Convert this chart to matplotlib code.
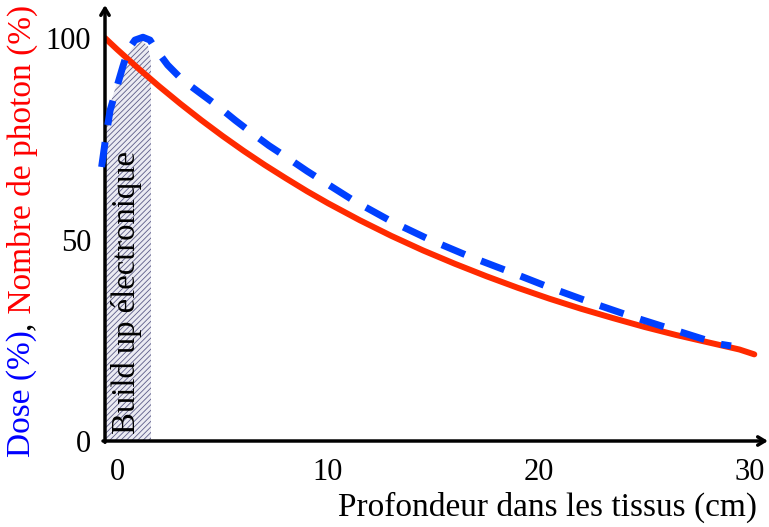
import numpy as np
import matplotlib.pyplot as plt

plt.rcParams['font.family'] = ['Liberation Serif', 'DejaVu Serif']
plt.rcParams['hatch.linewidth'] = 0.6
plt.rcParams['hatch.color'] = '#5c5c88'

# nombre de photons (%) vs profondeur (cm)
x_photon = [-0.57, 0.0, 1.0, 2.0, 3.0, 4.0, 5.0, 6.0, 7.0, 8.0, 9.0, 10.0, 11.5, 13.0, 14.5,
            16.0, 17.5, 19.0, 20.5, 22.0, 23.5, 25.0, 26.5, 28.0, 29.5, 30.2]
y_photon = [100, 97.2, 92.5, 88.0, 83.7, 79.6, 75.7, 72.0, 68.5, 65.2, 62.0, 59.0, 54.8,
            50.9, 47.3, 44.0, 40.9, 38.0, 35.3, 32.8, 30.5, 28.3, 26.3, 24.5, 22.7, 21.5]

# dose (%) vs profondeur (cm)
x_dose = [-0.73, -0.57, -0.33, 0.0, 0.28, 0.52, 0.85, 1.23, 1.56, 1.8, 2.4, 3.1, 4.0, 4.8,
          5.6, 6.4, 7.2, 8.1, 9.0, 9.9, 11.2, 13.0, 14.8, 16.7, 18.7, 20.5, 22.6, 24.5,
          26.5, 28.5, 29.1]
y_dose = [68, 74, 82, 88, 93, 97, 99.5, 100.2, 99.5, 97.5, 93.3, 89.6, 86.1, 83,
          79.6, 76.4, 73.3, 70.2, 67.0, 64, 59.7, 54.5, 50, 45.8, 41.8, 38.1, 34.1, 30.7,
          27.4, 24.1, 23.6]

# zone de build up
x_buildup = [-0.57, -0.24, 0.14, 0.52, 0.85, 1.18, 1.47, 1.61]
y_buildup = [78, 85, 91, 96, 98.5, 99.3, 98, 94]

x_ticks = [0, 10, 20, 30]
y_ticks = [0, 50, 100]

fig = plt.figure(figsize=(7.69, 5.27), dpi=100)
ax = fig.add_axes([105/769, 86/527, 663/769, 436/527])
ax.set_xlim(-0.57, 30.85)
ax.set_ylim(0, 108.2)

ax.fill_between(x_buildup, 0, y_buildup, facecolor='#ebebf2', edgecolor='#5c5c88',
                hatch='//////', linewidth=0, zorder=1)
ax.text(0.47, 1.7, 'Build up électronique', rotation=90, ha='center', va='bottom',
        fontsize=23.5, zorder=2)

ax.plot(x_photon, y_photon, color='#ff2a00', lw=4.3, solid_capstyle='round', zorder=3)
ax.plot(x_dose, y_dose, color='#0040ff', lw=5, linestyle=(0, (3.6, 2.5)),
        dash_capstyle='butt', zorder=4, clip_on=False)

for s in ax.spines.values():
    s.set_visible(False)
ax.annotate('', xy=(1, 0), xytext=(-0.003, 0), xycoords='axes fraction',
            arrowprops=dict(arrowstyle='->,head_length=0.5,head_width=0.3', lw=2.5,
                            color='k', shrinkA=0, shrinkB=0), annotation_clip=False)
ax.annotate('', xy=(0, 1), xytext=(0, -0.003), xycoords='axes fraction',
            arrowprops=dict(arrowstyle='->,head_length=0.5,head_width=0.3', lw=2.5,
                            color='k', shrinkA=0, shrinkB=0), annotation_clip=False)

ax.set_xticks(x_ticks)
ax.set_yticks(y_ticks)
ax.tick_params(length=0, labelsize=22)
ax.tick_params(axis='x', pad=12)
ax.tick_params(axis='y', pad=10)

fig.text(548/769, 1 - 507/527, 'Profondeur dans les tissus (cm)', ha='center',
         va='center', fontsize=24)

# label y multicolore
t1 = fig.text(22/769, 1 - 457/527, 'Dose (%)', rotation=90, ha='center', va='bottom',
              fontsize=24, color='#0000ff')
t2 = ax.annotate(',', xy=(0.5, 1), xycoords=t1, rotation=90, ha='center', va='bottom',
                 fontsize=24, color='k')
t3 = ax.annotate(' Nombre de photon (%)', xy=(0.5, 1), xycoords=t2, rotation=90,
                 ha='center', va='bottom', fontsize=24, color='#ff0000')

fig.savefig('out.png', dpi=100)
